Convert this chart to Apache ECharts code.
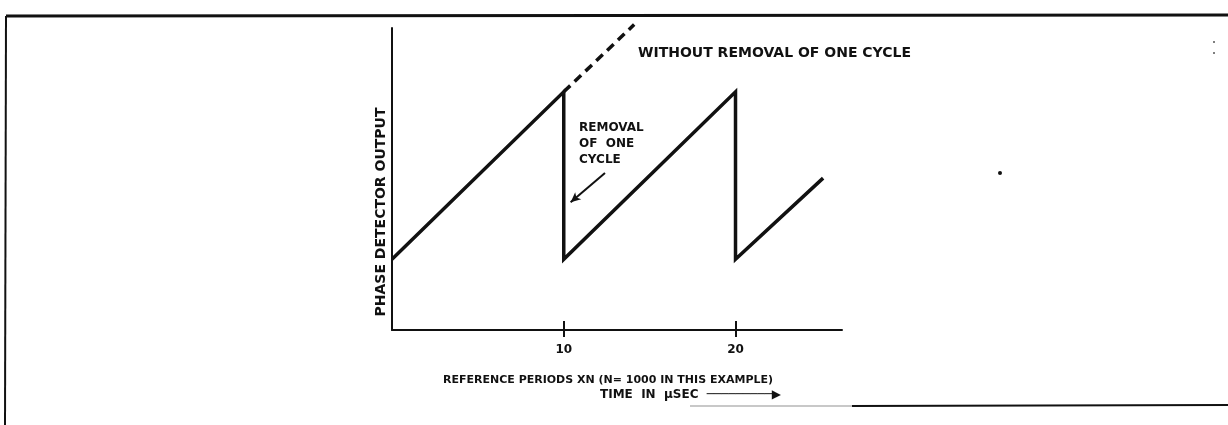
<!DOCTYPE html>
<html>
<head>
<meta charset="utf-8">
<script src="https://cdn.jsdelivr.net/npm/echarts@6/dist/echarts.min.js"></script>
<style>
  html, body { margin: 0; padding: 0; background: #fff; }
  #chart { width: 1228px; height: 425px; }
</style>
</head>
<body>
<div id="chart"></div>
<script>
// sawtooth of the phase detector (time in reference periods x N)
const time = [0, 10, 10, 20, 20, 25.1];
const phase = [4.1, 13.8, 4.1, 13.8, 4.1, 8.8];
// continuation if no cycle were removed
const noRemovalTime = [10, 14.1];
const noRemovalPhase = [13.8, 17.7];
// arrow pointing at the drop
const arrowFrom = [12.4, 9.1];
const arrowTo = [10.4, 7.4];
const tickValues = [10, 20];

const font = 'DejaVu Sans';
const ink = '#111';

const chart = echarts.init(document.getElementById('chart'));

const xBase = {
  type: 'value', min: 0, max: 26.2, gridIndex: 0,
  splitLine: { show: false }
};

chart.setOption({
  animation: false,
  backgroundColor: '#fff',
  grid: { left: 392, right: 386, top: 28, bottom: 95 },
  xAxis: [
    Object.assign({}, xBase, {
      axisLine: { lineStyle: { color: ink, width: 2 } },
      axisTick: { customValues: tickValues, length: 7, lineStyle: { color: ink, width: 2 } },
      axisLabel: {
        customValues: tickValues, margin: 14,
        color: ink, fontFamily: font, fontWeight: 'bold', fontSize: 12
      }
    }),
    Object.assign({}, xBase, {
      position: 'bottom',
      axisLine: { show: false },
      axisTick: { customValues: tickValues, inside: true, length: 9, lineStyle: { color: ink, width: 2 } },
      axisLabel: { show: false }
    })
  ],
  yAxis: {
    type: 'value', min: 0, max: 17.5,
    axisLine: { show: true, lineStyle: { color: ink, width: 2 } },
    axisTick: { show: false },
    axisLabel: { show: false },
    splitLine: { show: false }
  },
  series: [
    {
      type: 'line',
      data: time.map((t, i) => [t, phase[i]]),
      symbol: 'none',
      lineStyle: { color: ink, width: 3.5, join: 'miter' },
      markLine: {
        silent: true,
        symbol: ['none', 'arrow'],
        symbolSize: [7, 10],
        label: { show: false },
        lineStyle: { color: ink, width: 2, type: 'solid' },
        data: [[{ coord: arrowFrom }, { coord: arrowTo }]]
      }
    },
    {
      type: 'line',
      data: noRemovalTime.map((t, i) => [t, noRemovalPhase[i]]),
      symbol: 'none',
      clip: false,
      lineStyle: { color: ink, width: 3.5, type: [9, 6] }
    }
  ],
  graphic: [
    // scanned page frame
    { type: 'line', shape: { x1: 6, y1: 16, x2: 1228, y2: 15 }, style: { stroke: ink, lineWidth: 3 } },
    { type: 'line', shape: { x1: 6, y1: 16, x2: 5, y2: 425 }, style: { stroke: ink, lineWidth: 2 } },
    { type: 'line', shape: { x1: 852, y1: 406, x2: 1228, y2: 405 }, style: { stroke: ink, lineWidth: 2 } },
    { type: 'line', shape: { x1: 690, y1: 406, x2: 852, y2: 406 }, style: { stroke: '#c8c8c8', lineWidth: 2 } },
    { type: 'circle', shape: { cx: 1000, cy: 173, r: 2 }, style: { fill: ink } },
    { type: 'circle', shape: { cx: 1214, cy: 42, r: 1 }, style: { fill: '#555' } },
    { type: 'circle', shape: { cx: 1214, cy: 53, r: 1 }, style: { fill: '#555' } },
    {
      type: 'text', x: 381, y: 212, rotation: Math.PI / 2,
      style: {
        text: 'PHASE DETECTOR OUTPUT', fill: ink, font: 'bold 14px ' + font,
        align: 'center', verticalAlign: 'middle'
      }
    },
    {
      type: 'text', x: 638, y: 53,
      style: {
        text: 'WITHOUT REMOVAL OF ONE CYCLE', fill: ink, font: 'bold 14px ' + font,
        align: 'left', verticalAlign: 'middle'
      }
    },
    {
      type: 'text', x: 579, y: 120,
      style: {
        text: 'REMOVAL\nOF  ONE\nCYCLE', fill: ink, font: 'bold 12px ' + font,
        lineHeight: 16, align: 'left', verticalAlign: 'top'
      }
    },
    {
      type: 'text', x: 608, y: 380,
      style: {
        text: 'REFERENCE PERIODS XN (N= 1000 IN THIS EXAMPLE)', fill: ink,
        font: 'bold 11px ' + font, align: 'center', verticalAlign: 'middle'
      }
    },
    {
      type: 'text', x: 600, y: 395,
      style: {
        text: 'TIME  IN  \u03bcSEC  \u2500\u2500\u2500\u2500\u2500\u2500\u2500\u2500\u2500\u25b6', fill: ink,
        font: 'bold 12px ' + font, align: 'left', verticalAlign: 'middle'
      }
    }
  ]
});
</script>
</body>
</html>
